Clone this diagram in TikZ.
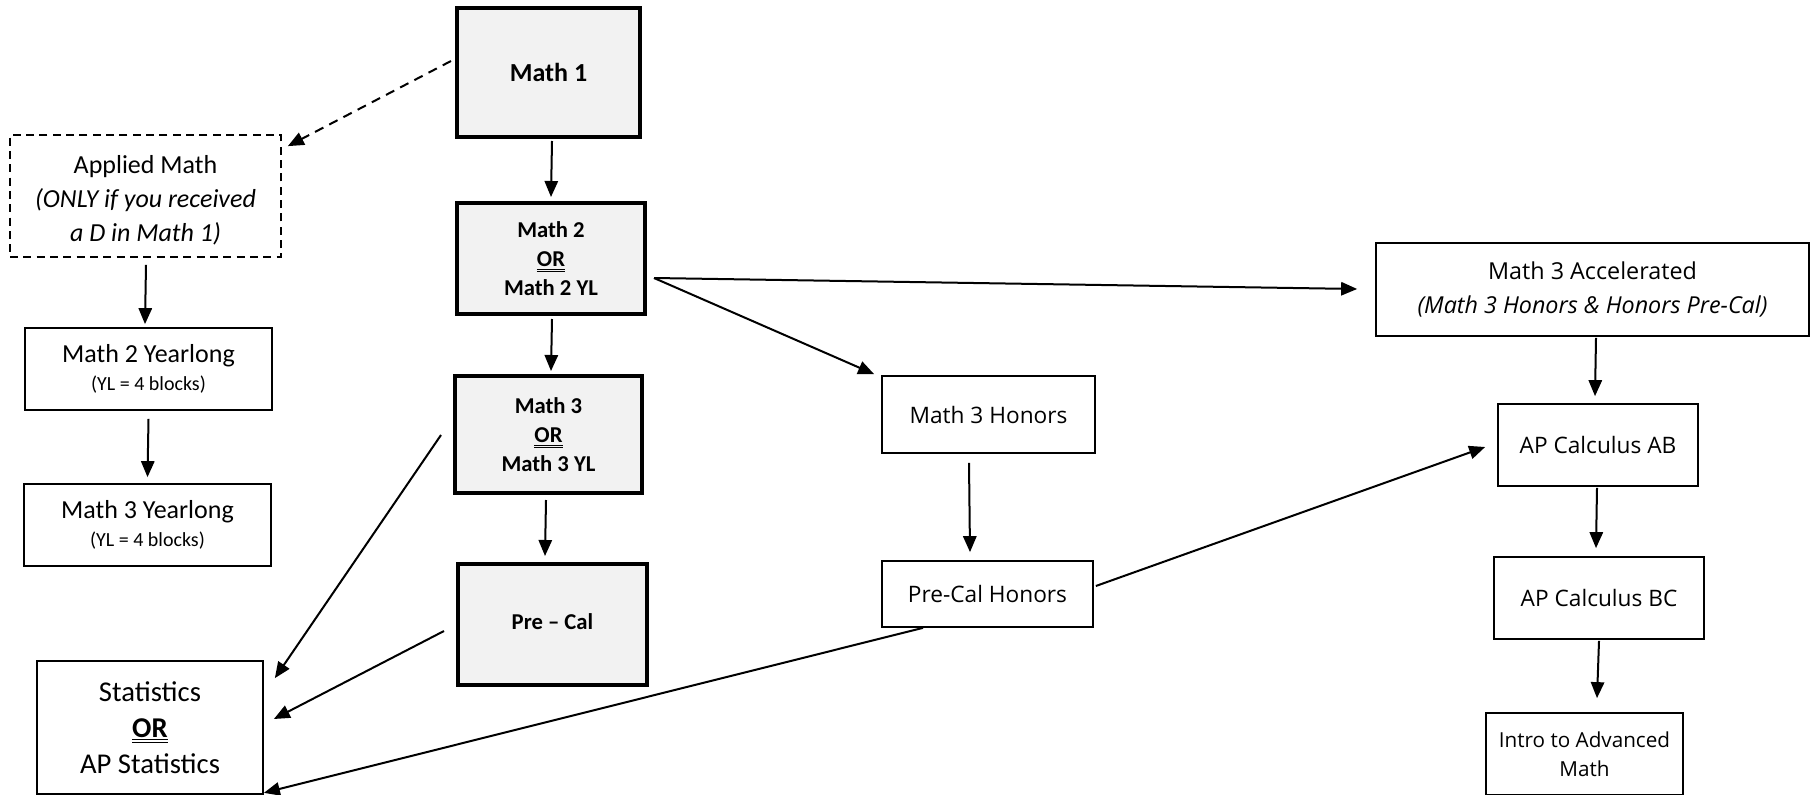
\documentclass[tikz,border=0pt]{standalone}
\usepackage{fontspec}
\setmainfont{Carlito}
\newfontfamily\osf{Open Sans}
\usetikzlibrary{arrows.meta,calc}
\newcommand\dul[1]{\setbox0\hbox{#1}\rlap{\vrule height -1.6pt depth 2.3pt width\wd0}\rlap{\vrule height -3.4pt depth 4.1pt width\wd0}\box0}
\tikzset{
  thickbox/.style={draw=black,line width=3pt,fill=gray!10,inner sep=0pt,align=center,font=\bfseries},
  thinbox/.style={draw=black,line width=1.3pt,fill=white,inner sep=0pt,align=center},
  arr/.style={line width=1.5pt,-{Triangle[length=12pt,width=10pt]}},
}
\begin{document}
\begin{tikzpicture}[x=0.75pt,y=-0.75pt]
\useasboundingbox (0,0) rectangle (1815,795);
% left / centre column (Calibri-like)
\node[thickbox,minimum width=137.25pt,minimum height=96.75pt,font=\fontsize{19.5}{24}\selectfont\bfseries] (m1) at (548.5,72.5) {Math 1};
\node[thinbox,dashed,dash pattern=on 6pt off 4pt,minimum width=203.25pt,minimum height=91.5pt,font=\fontsize{19.5}{25.5}\selectfont] (app) at (145.5,196) {\rule{0pt}{20pt}Applied Math\\\itshape(ONLY if you received\\\itshape a D in Math 1)};
\node[thickbox,minimum width=141pt,minimum height=83.25pt,font=\fontsize{17}{22}\selectfont\bfseries] (m2) at (551,258.5) {Math 2\\\dul{OR}\\Math 2 YL};
\node[thinbox,minimum width=185.25pt,minimum height=61.5pt,font=\fontsize{19.5}{21}\selectfont] (m2yl) at (148.5,369) {Math 2 Yearlong\\{\fontsize{15}{18}\selectfont (YL = 4 blocks)}};
\node[thinbox,minimum width=185.25pt,minimum height=61.5pt,font=\fontsize{19.5}{21}\selectfont] (m3yl) at (147.5,525) {Math 3 Yearlong\\{\fontsize{15}{18}\selectfont (YL = 4 blocks)}};
\node[thickbox,minimum width=140.25pt,minimum height=87.75pt,font=\fontsize{17}{22}\selectfont\bfseries] (m3) at (548.5,434.5) {Math 3\\\dul{OR}\\Math 3 YL};
\node[thickbox,minimum width=141.75pt,minimum height=90.75pt,font=\fontsize{17}{22}\selectfont\bfseries] (pc) at (552.5,624.5) {Pre – Cal\rule[-4pt]{0pt}{4pt}};
\node[thinbox,minimum width=169.5pt,minimum height=99.75pt,font=\fontsize{21.5}{27}\selectfont] (st) at (150,727.5) {Statistics\\\textbf{\dul{OR}}\\AP Statistics};
% right side (Open Sans)
\node[thinbox,minimum width=159.75pt,minimum height=57.75pt,font=\osf\fontsize{17}{22}\selectfont] (m3h) at (988.5,414.5) {Math 3 Honors};
\node[thinbox,minimum width=158.25pt,minimum height=49.5pt,font=\osf\fontsize{17}{22}\selectfont] (pch) at (987.5,594) {Pre-Cal Honors};
\node[thinbox,minimum width=324.75pt,minimum height=69.75pt,font=\osf\fontsize{17.5}{25}\selectfont] (acc) at (1592.5,289.5) {Math 3 Accelerated\\\itshape(Math 3 Honors \& Honors Pre-Cal)};
\node[thinbox,minimum width=150pt,minimum height=61.5pt,font=\osf\fontsize{17}{22}\selectfont] (ab) at (1598,445) {AP Calculus AB};
\node[thinbox,minimum width=157.5pt,minimum height=61.5pt,font=\osf\fontsize{17}{22}\selectfont] (bc) at (1599,598) {AP Calculus BC};
\node[thinbox,minimum width=147.75pt,minimum height=61.5pt,font=\osf\fontsize{15.5}{22}\selectfont] (intro) at (1584.5,754) {Intro to Advanced\\Math};
% connectors
\draw[arr,dashed,dash pattern=on 7pt off 5pt] ($(m1.west)+(-4,-11.5)$) -- ($(app.north east)+(6,12)$);
\draw[arr] ($(m1.south)+(3.5,2)$) -- ($(m2.north)+(0,-4)$);
\draw[arr] ($(app.south)+(0.5,7)$) -- ($(m2yl.north)+(-3.5,-3)$);
\draw[arr] ($(m2yl.south)+(0,8)$) -- ($(m3yl.north)+(0,-6)$);
\draw[arr] ($(m2.south)+(1,3)$) -- ($(m3.north)+(2.5,-3)$);
\draw[arr] ($(m3.south)+(-2.5,5)$) -- ($(pc.north)+(-7.5,-6)$);
\draw[arr] ($(m3.west)+(-12,0.5)$) -- ($(st.north east)+(11,18)$);
\draw[arr] ($(pc.west)+(-12,6.5)$) -- ($(st.east)+(10,-8.5)$);
\draw[arr] ($(pch.south)+(-64.5,0)$) -- ($(st.south east)+(0,-2)$);
\draw[arr] ($(m2.east)+(7,19.5)$) -- ($(acc.west)+(-18,-0.5)$);
\draw[arr] ($(m2.east)+(7,19.5)$) -- ($(m3h.north west)+(-7,-1)$);
\draw[arr] ($(m3h.south)+(-19.5,9)$) -- ($(pch.north)+(-17.5,-8)$);
\draw[arr] ($(pch.east)+(2,-8)$) -- ($(ab.west)+(-12,2)$);
\draw[arr] ($(acc.south)+(3.5,1)$) -- ($(ab.north)+(-3,-7)$);
\draw[arr] ($(ab.south)+(-1,1)$) -- ($(bc.north)+(-3,-8)$);
\draw[arr] ($(bc.south)+(0,1)$) -- ($(intro.north)+(12.5,-14)$);
\end{tikzpicture}
\end{document}
